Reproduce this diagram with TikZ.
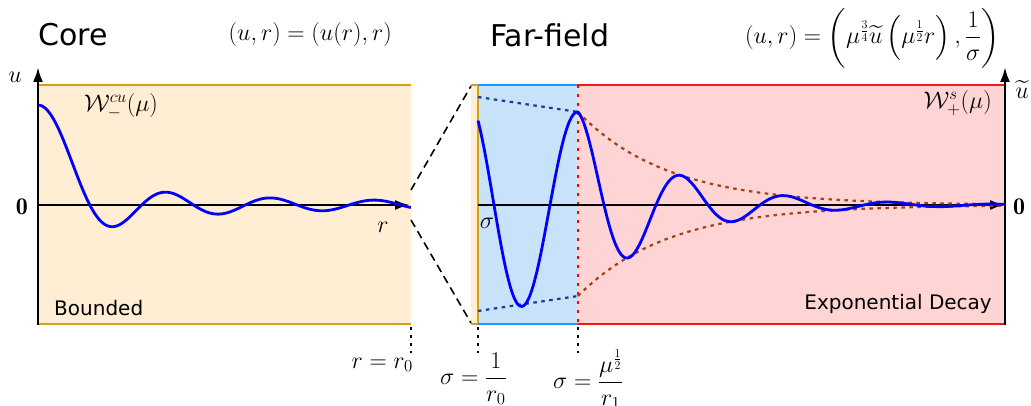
\documentclass[tikz,border=0pt]{standalone}
\usepackage{fix-cm}
\usepackage{amsmath}
\usepackage{fontspec}
\setsansfont{DejaVu Sans}
\usetikzlibrary{arrows.meta}
\definecolor{coreFill}{RGB}{255,237,212}
\definecolor{coreLine}{RGB}{214,160,20}
\definecolor{nearFill}{RGB}{200,226,250}
\definecolor{nearLine}{RGB}{30,150,255}
\definecolor{farFill}{RGB}{255,212,212}
\definecolor{farLine}{RGB}{255,20,20}
\definecolor{envBlue}{RGB}{25,60,150}
\definecolor{envBrown}{RGB}{165,65,20}
\begin{document}
\begin{tikzpicture}[x=1pt,y=1pt,
    axis/.style={line width=2.6pt,-{Latex[length=15pt,width=10pt]}},
    edge/.style={line width=2.6pt},
    wave/.style={blue,line width=2.8pt,line join=round},
    dots/.style={line width=2.2pt,dash pattern=on 3.5pt off 4.5pt},
    title/.style={inner sep=0pt,font=\sffamily\fontsize{30}{36}\selectfont},
    tag/.style={inner sep=0pt,font=\sffamily\fontsize{20}{24}\selectfont},
    lbl/.style={inner sep=0pt,font=\fontsize{24}{28}\selectfont}]
    \useasboundingbox (-38,-201) rectangle (993,205);
    \fill[coreFill] (0,-119) rectangle (373,120);
    \fill[coreFill] (433,-119) rectangle (440,120);
    \fill[nearFill] (440,-119) rectangle (540,120);
    \fill[farFill] (540,-119) rectangle (967,120);
    \draw[edge,coreLine] (0,120) -- (373,120) (0,-119) -- (373,-119);
    \draw[edge,coreLine] (433,120) -- (440,120) -- (440,-119) -- (433,-119);
    \draw[edge,nearLine] (440,120) -- (540,120) (440,-119) -- (540,-119);
    \draw[edge,farLine] (540,120) -- (967,120) (540,-119) -- (967,-119);
    \draw[dots,red,line width=2.6pt,dash pattern=on 3pt off 6pt] (540,120) -- (540,-119);
    \coordinate (r0) at (373,-122);
    \coordinate (s0) at (440,-122);
    \coordinate (s1) at (540,-122);
    \draw[dots] (r0) -- ++(0,-26);
    \draw[dots] (s0) -- ++(0,-26);
    \draw[dots] (s1) -- ++(0,-26);
    \coordinate (zt) at (373,15);
    \coordinate (zb) at (373,-15);
    \coordinate (ft) at (433,119);
    \coordinate (fb) at (433,-118);
    \draw[line width=1.6pt,dash pattern=on 8pt off 5pt] (zt) -- (ft) (zb) -- (fb);
    \draw[axis] (0,0) -- (372,0);
    \draw[axis] (440,0) -- (967,0);
    \draw[axis] (0,-120) -- (0,138);
    \draw[axis] (967,-120) -- (967,138);
    \draw[dots,envBlue] (440,108) -- (540,93);
    \draw[dots,envBlue] (440,-106) -- (540,-91);
    \draw[dots,envBrown] plot[domain=0:427,samples=60] ({540+\x},{93*exp(-\x/90)});
    \draw[dots,envBrown] plot[domain=0:427,samples=60] ({540+\x},{-91*exp(-\x/90)});
    \draw[wave] plot[domain=0.02:22.6,samples=220] ({16.5*\x},{100*sin(\x r)/\x});
    \draw[wave] plot[domain=-100:0,samples=90] ({540+\x},{(93-0.15*\x)*cos(3.2143*\x)})
        -- plot[domain=0:427,samples=220] ({540+\x},{93*exp(-\x/90)*cos(3.4615*\x)});
    \node[title,anchor=west] (core) at (0,170) {Core};
    \node[title,anchor=west] (far) at (452,170) {Far-field};
    \node[lbl,anchor=east] (coremap) at (354,170) {$(u,r)=(u(r),r)$};
    \node[lbl,anchor=east] (farmap) at (962,167) {$(u,r)=\left(\mu^{\frac34}\widetilde{u}\left(\mu^{\frac12}r\right),\dfrac{1}{\sigma}\right)$};
    \node[lbl,anchor=west] (wcu) at (46,99) {$\mathcal{W}^{cu}_-(\mu)$};
    \node[lbl,anchor=east] (ws) at (954,102) {$\mathcal{W}^{s}_+(\mu)$};
    \node[tag,anchor=west] (bnd) at (16,-103) {Bounded};
    \node[tag,anchor=east] (dec) at (954,-99) {Exponential Decay};
    \node[lbl] (ulbl) at (-23,128) {$u$};
    \node[lbl] (utl) at (984,115) {$\widetilde{u}$};
    \node[lbl] (z0) at (-16,-2) {$\mathbf{0}$};
    \node[lbl] (z1) at (981,-2) {$\mathbf{0}$};
    \node[lbl] (rlbl) at (345,-22) {$r$};
    \node[lbl] (slbl) at (449,-18) {$\sigma$};
    \node[lbl,anchor=east] (r0lbl) at (375,-160) {$r=r_0$};
    \node[lbl,anchor=west] (s0lbl) at (402,-174) {$\sigma=\dfrac{1}{r_0}$};
    \node[lbl,anchor=west] (s1lbl) at (515,-174) {$\sigma=\dfrac{\mu^{\frac12}}{r_1}$};
\end{tikzpicture}
\end{document}
